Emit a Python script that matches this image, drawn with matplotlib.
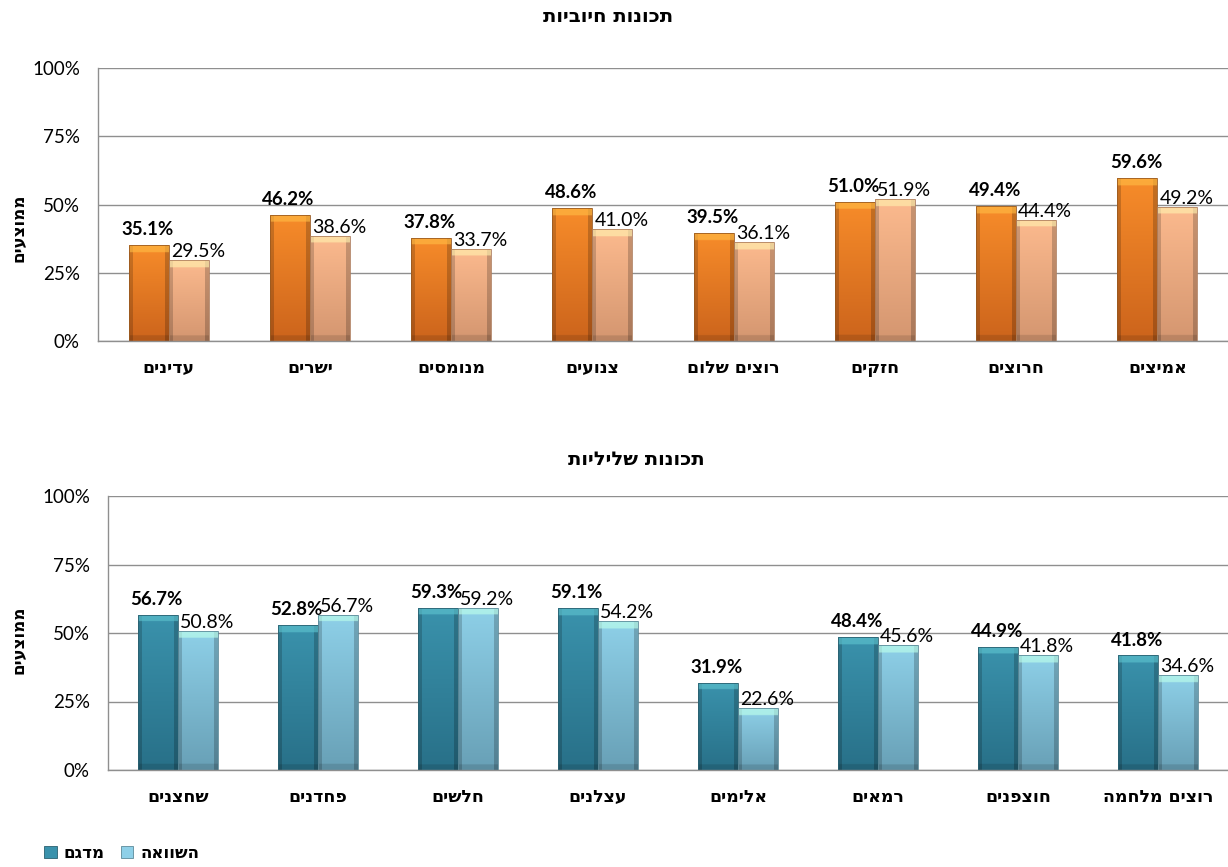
import numpy as np
import matplotlib
matplotlib.use("Agg")
import matplotlib.pyplot as plt
from matplotlib.patches import Patch

plt.rcParams['font.family'] = ['Lato', 'DejaVu Sans']
HEB = ['DejaVu Sans']

# ---- data ----
pos_categories = ["עדינים", "ישרים", "מנומסים", "צנועים", "רוצים שלום", "חזקים", "חרוצים", "אמיצים"]
pos_sample = [35.1, 46.2, 37.8, 48.6, 39.5, 51.0, 49.4, 59.6]
pos_compare = [29.5, 38.6, 33.7, 41.0, 36.1, 51.9, 44.4, 49.2]

neg_categories = ["שחצנים", "פחדנים", "חלשים", "עצלנים", "אלימים", "רמאים", "חוצפנים", "רוצים מלחמה"]
neg_sample = [56.7, 52.8, 59.3, 59.1, 31.9, 48.4, 44.9, 41.8]
neg_compare = [50.8, 56.7, 59.2, 54.2, 22.6, 45.6, 41.8, 34.6]

yticks = [0, 25, 50, 75, 100]
ytick_labels = ["0%", "25%", "50%", "75%", "100%"]

title_pos = "תכונות חיוביות"
title_neg = "תכונות שליליות"
ylabel = "ממוצעים"
legend_labels = ["מדגם", "השוואה"]


def visual(s):
    """Hebrew in display order (matplotlib lays text out left to right)."""
    return s[::-1]


W, H, DPI = 1228, 867, 100
fig = plt.figure(figsize=(W / DPI, H / DPI), dpi=DPI)

GRID = "#8f8f8f"
BAR_W = 0.283


def shade_bar(ax, bar, top_rgb, bot_rgb, px_per_unit):
    """Fill a bar with a bevelled vertical gradient."""
    x0, y0 = bar.get_x(), bar.get_y()
    w, h = bar.get_width(), bar.get_height()
    ny, nx = 200, 40
    t = np.linspace(0, 1, ny)[:, None]  # 0 = top, 1 = bottom
    top = np.array(top_rgb)
    bot = np.array(bot_rgb)
    img = top[None, None, :] * (1 - t[..., None]) + bot[None, None, :] * t[..., None]
    img = np.repeat(img, nx, axis=1)
    # darker side edges
    u = np.linspace(0, 1, nx)
    side = np.ones(nx)
    e = 0.09
    side[u < e] = 0.82
    side[u > 1 - e] = 0.80
    img = img * side[None, :, None]
    # light bevel on top
    bar_px = h * px_per_unit
    frac = min(7.0 / max(bar_px, 1), 0.3)
    cap = t[:, 0] < frac
    img[cap] = img[cap] * 0.35 + 0.65 * np.array([1.0, 1.0, 0.92])[None, :] * np.minimum(1, top * 1.15 + 0.1)[None, :]
    bottom_band = t[:, 0] > 1 - frac * 0.8
    img[bottom_band] = img[bottom_band] * 0.88
    img = np.clip(img, 0, 1)
    im = ax.imshow(img, extent=(x0, x0 + w, y0, y0 + h), aspect='auto',
                   zorder=3, interpolation='bilinear', origin='upper')
    im.set_clip_path(bar)


def rgb(c):
    return np.array([v / 255 for v in c])


def draw_panel(rect, cats, sample, compare, cols):
    ax = fig.add_axes(rect)
    x = np.arange(len(cats))
    ax.set_xlim(-0.5, len(cats) - 0.5)
    ax.set_ylim(0, 100)
    px_per_unit = rect[3] * H / 100.0
    b1 = ax.bar(x - BAR_W / 2, sample, BAR_W, color='none', edgecolor=cols[4], linewidth=0.6, zorder=4)
    b2 = ax.bar(x + BAR_W / 2, compare, BAR_W, color='none', edgecolor=cols[5], linewidth=0.6, zorder=4)
    for bar in b1:
        shade_bar(ax, bar, cols[0], cols[1], px_per_unit)
    for bar in b2:
        shade_bar(ax, bar, cols[2], cols[3], px_per_unit)

    for bar, v in zip(b1, sample):
        ax.annotate(f"{v:.1f}%", (bar.get_x() + bar.get_width() / 2, v),
                    xytext=(-1, 5), textcoords='offset points',
                    ha='center', va='bottom', fontsize=13.5, fontweight='bold',
                    color='black', zorder=6)
    for bar, v in zip(b2, compare):
        ax.annotate(f"{v:.1f}%", (bar.get_x(), v),
                    xytext=(1.5, 0), textcoords='offset points',
                    ha='left', va='bottom', fontsize=14,
                    color='black', zorder=6)

    ax.set_yticks(yticks)
    ax.set_yticklabels(ytick_labels, fontsize=13.5)
    ax.set_xticks(x)
    ax.set_xticklabels([visual(c) for c in cats], fontsize=12.5, fontweight='bold',
                       family=HEB)
    ax.tick_params(axis='y', length=0, pad=13)
    ax.tick_params(axis='x', length=0, pad=13)
    ax.yaxis.grid(True, color=GRID, linewidth=1)
    ax.set_axisbelow(True)
    for s in ('top', 'right'):
        ax.spines[s].set_visible(False)
    for s in ('left', 'bottom'):
        ax.spines[s].set_color(GRID)
        ax.spines[s].set_linewidth(1)
    ax.spines['bottom'].set_zorder(5)
    return ax


orange = [rgb((247, 140, 42)), rgb((204, 100, 28)),
          rgb((252, 186, 142)), rgb((212, 150, 112)),
          "#9a5a20", "#b08060"]
blue = [rgb((58, 146, 172)), rgb((40, 112, 136)),
        rgb((142, 208, 232)), rgb((104, 160, 182)),
        "#2a6070", "#5c8a9a"]

top_rect = [98 / W, 1 - 341 / H, 1 - 98 / W, (341 - 68) / H]
bot_rect = [108 / W, 1 - 770 / H, 1 - 108 / W, (770 - 496) / H]

ax1 = draw_panel(top_rect, pos_categories, pos_sample, pos_compare, orange)
ax2 = draw_panel(bot_rect, neg_categories, neg_sample, neg_compare, blue)

fig.text(608 / W, 1 - 17 / H, visual(title_pos), ha='center', va='center',
         fontsize=14, fontweight='bold', family=HEB)
fig.text(636 / W, 1 - 460 / H, visual(title_neg), ha='center', va='center',
         fontsize=14, fontweight='bold', family=HEB)
fig.text(18 / W, 1 - 228 / H, visual(ylabel), rotation=90, ha='center', va='center',
         fontsize=12, fontweight='bold', family=HEB)
fig.text(18 / W, 1 - 640 / H, visual(ylabel), rotation=90, ha='center', va='center',
         fontsize=12, fontweight='bold', family=HEB)

handles = [Patch(facecolor=blue[0], edgecolor=blue[4], linewidth=0.6),
           Patch(facecolor=blue[2], edgecolor=blue[5], linewidth=0.6)]
fig.legend(handles, [visual(l) for l in legend_labels], ncol=2,
           loc='center left', bbox_to_anchor=(44 / W, 1 - 853 / H),
           frameon=False, handlelength=0.75, handleheight=0.75,
           handletextpad=0.4, columnspacing=1.0, borderaxespad=0, borderpad=0,
           prop={'weight': 'bold', 'size': 12, 'family': HEB})

fig.savefig("out.png", dpi=DPI)
